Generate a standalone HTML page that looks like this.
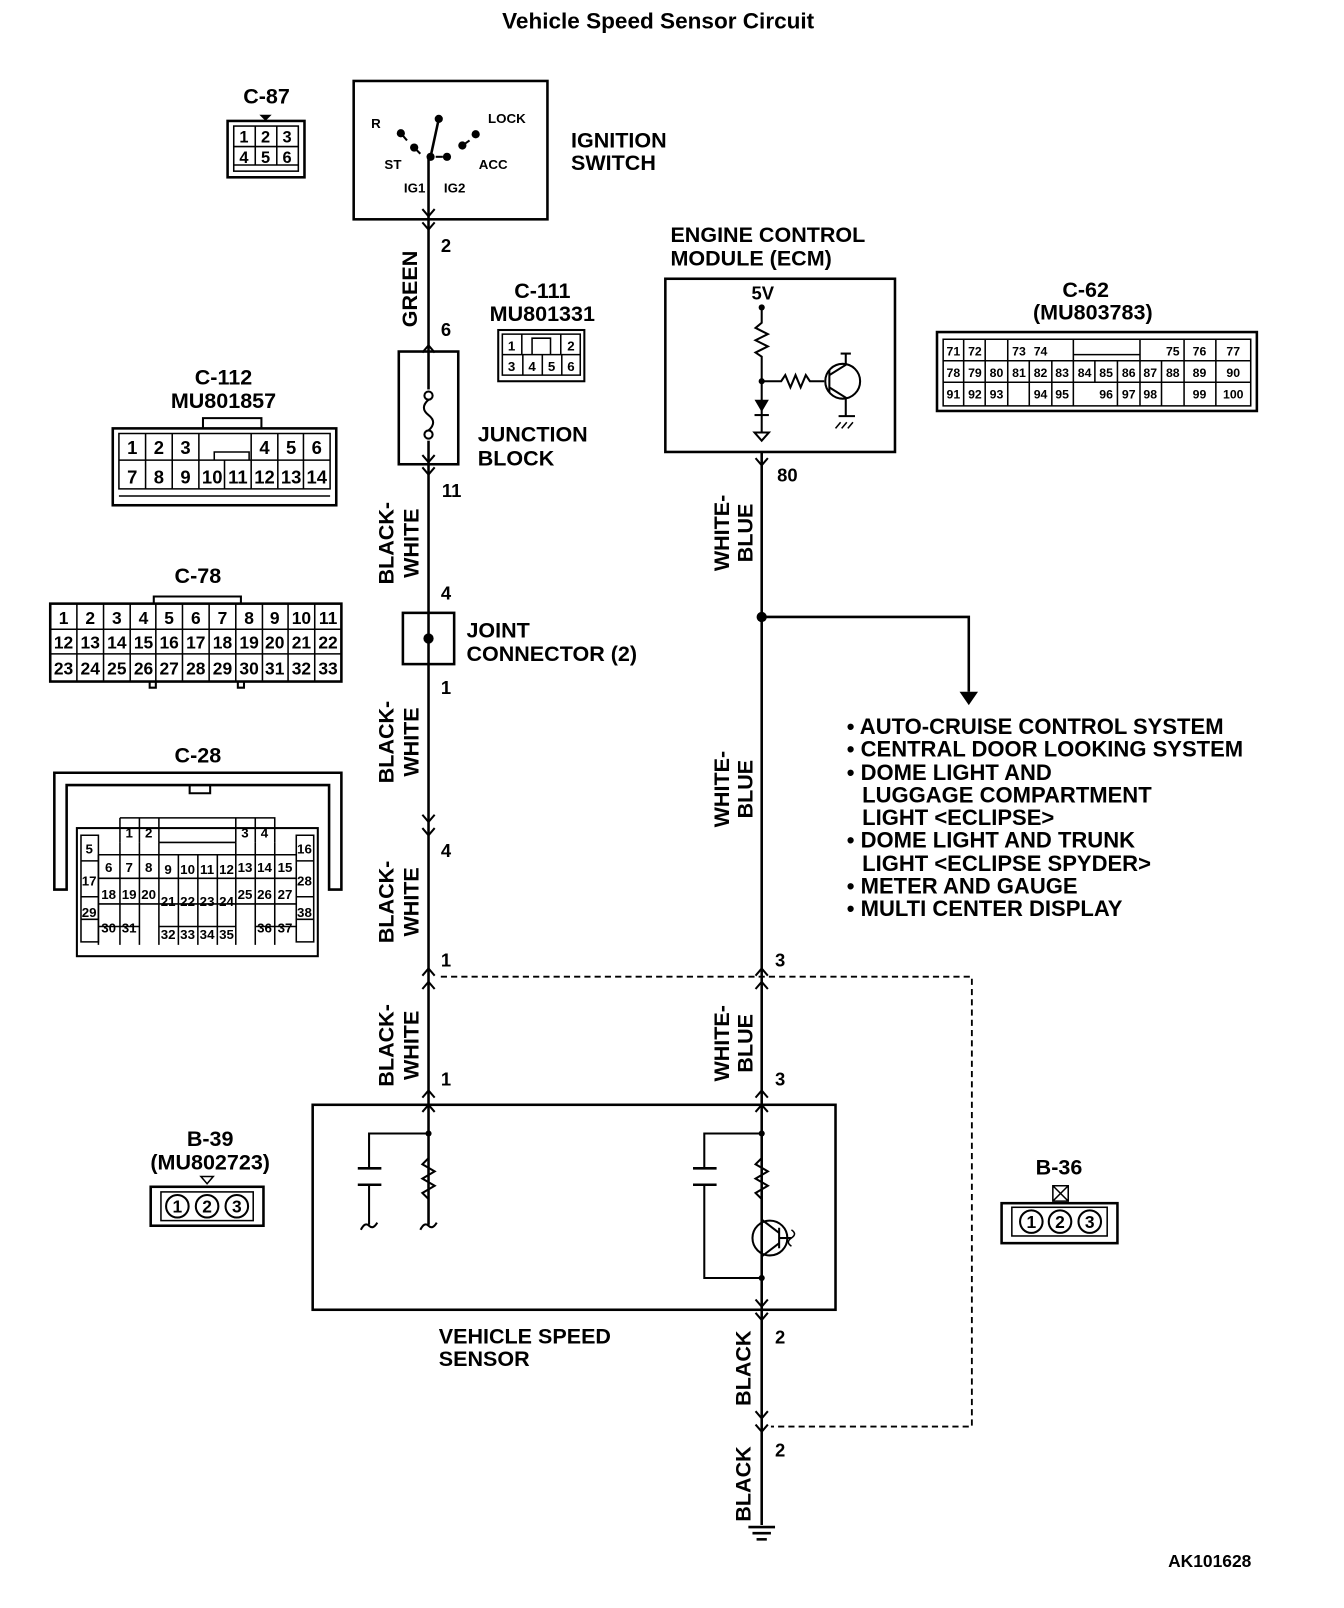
<!DOCTYPE html>
<html><head><meta charset="utf-8"><style>
html,body{margin:0;padding:0;background:#fff}
svg{display:block}
text{font-family:"Liberation Sans",Arial,sans-serif;fill:#000;font-weight:bold}
.l{font-size:21px}
.p{font-size:16px}
.s{font-size:13px}
.b{font-weight:bold}
</style></head><body>
<svg width="1344" height="1608" viewBox="0 0 1311 1569" preserveAspectRatio="none" xmlns="http://www.w3.org/2000/svg">
<g fill="none" stroke="#000" stroke-width="2.5">
<line x1="418" y1="153" x2="418" y2="1195"/>
<line x1="743" y1="441" x2="743" y2="1488"/>
<polyline points="743,602 945,602 945,675"/>
<polyline points="430,953 948,953 948,1392 752,1392" stroke-dasharray="6,4" stroke-width="1.8"/>
<rect x="345" y="79" width="189" height="135"/>
<line x1="420" y1="153" x2="428" y2="116"/>
<line x1="391" y1="130" x2="397" y2="137" stroke-width="2"/>
<line x1="404" y1="144" x2="410" y2="150" stroke-width="2"/>
<line x1="425" y1="153" x2="432" y2="153" stroke-width="2"/>
<line x1="451" y1="142" x2="458" y2="137" stroke-width="2"/>
<rect x="389" y="343" width="58" height="110"/>
<rect x="410" y="380" width="16" height="50" fill="#fff" stroke="none"/>
<circle cx="418" cy="386" r="4" stroke-width="2" fill="#fff"/>
<circle cx="418" cy="424" r="4" stroke-width="2" fill="#fff"/>
<path d="M418,390 q-9,8 0,15 q9,7 0,15" stroke-width="2"/>
<rect x="393" y="598" width="50" height="50"/>
<rect x="649" y="272" width="224" height="169"/>
<polyline points="743,300 743,315 737,320 749,326 737,332 749,338 737,344 743,348 743,405" stroke-width="2"/>
<polyline points="743,372 762,372 766,366 771,378 776,366 781,378 786,366 790,372 804,372" stroke-width="2"/>
<circle cx="822" cy="372" r="17" stroke-width="2"/>
<line x1="809" y1="361" x2="809" y2="383" stroke-width="2"/>
<polyline points="809,366 825,356 825,345" stroke-width="2"/>
<line x1="820" y1="345" x2="830" y2="345" stroke-width="2"/>
<polyline points="809,378 825,388 825,406" stroke-width="2"/>
<line x1="818" y1="406" x2="834" y2="406" stroke-width="2"/>
<path d="M820,412 l-5,6 M826,412 l-5,6 M832,412 l-5,6" stroke-width="1.5"/>
<line x1="736" y1="405" x2="750" y2="405" stroke-width="2"/>
<path d="M736,422 L750,422 L743,430 Z" stroke-width="2"/>
<line x1="743" y1="405" x2="743" y2="422" stroke-width="2"/>
<rect x="305" y="1078" width="510" height="200"/>
<polyline points="418,1106 360,1106 360,1140" stroke-width="2"/>
<line x1="349" y1="1140" x2="372" y2="1140"/>
<line x1="349" y1="1156" x2="372" y2="1156"/>
<line x1="360" y1="1156" x2="360" y2="1195" stroke-width="2"/>
<path d="M352,1200 q4,-8 8,-4 q4,4 8,-3" stroke-width="2"/>
<polyline points="418,1130 412,1136 424,1143 412,1150 424,1157 412,1164 418,1170 418,1195" stroke-width="2"/>
<path d="M410,1200 q4,-8 8,-4 q4,4 8,-3" stroke-width="2"/>
<polyline points="743,1106 687,1106 687,1140" stroke-width="2"/>
<line x1="676" y1="1140" x2="699" y2="1140"/>
<line x1="676" y1="1156" x2="699" y2="1156"/>
<polyline points="687,1156 687,1247 743,1247" stroke-width="2"/>
<polyline points="743,1106 743,1130 737,1136 749,1143 737,1150 749,1157 737,1164 743,1170 743,1190" stroke-width="2"/>
<circle cx="751" cy="1208" r="17" stroke-width="2"/>
<line x1="760" y1="1198" x2="760" y2="1218" stroke-width="2"/>
<line x1="760" y1="1208" x2="772" y2="1208" stroke-width="2"/>
<path d="M772,1200 q6,4 0,8 q-6,4 0,8" stroke-width="1.5"/>
<polyline points="760,1203 743,1190" stroke-width="2"/>
<polyline points="760,1213 743,1226 743,1247" stroke-width="2"/>
<line x1="730" y1="1490" x2="756" y2="1490"/>
<line x1="734" y1="1496" x2="752" y2="1496"/>
<line x1="738" y1="1502" x2="748" y2="1502"/>
<g stroke-width="2">
<path d="M412,204 l6,7 l6,-7 M412,217 l6,7 l6,-7"/>
<path d="M412,344 l6,-7 l6,7"/>
<path d="M412,444 l6,7 l6,-7 M412,456 l6,7 l6,-7"/>
<path d="M412,795 l6,7 l6,-7 M412,808 l6,7 l6,-7"/>
<path d="M412,952 l6,-7 l6,7 M412,965 l6,-7 l6,7"/>
<path d="M412,1071 l6,-7 l6,7 M412,1085 l6,-7 l6,7"/>
<path d="M737,447 l6,7 l6,-7"/>
<path d="M737,952 l6,-7 l6,7 M737,965 l6,-7 l6,7"/>
<path d="M737,1071 l6,-7 l6,7 M737,1085 l6,-7 l6,7"/>
<path d="M737,1268 l6,7 l6,-7 M737,1281 l6,7 l6,-7"/>
<path d="M737,1377 l6,7 l6,-7 M737,1390 l6,7 l6,-7"/>
</g>
<rect x="222" y="118" width="75" height="55"/>
<rect x="228" y="123" width="63" height="44" stroke-width="1.5"/>
<path d="M228,143 h63 M249,123 v20 M270,123 v20 M249,143 v18 M270,143 v18 M228,161 h63" stroke-width="1.5"/>
<rect x="486" y="322" width="84" height="50" stroke-width="2"/>
<path d="M490,326 h76 v40 h-76 Z M490,346 h76 M510,346 v20 M529,346 v20 M548,346 v20 M509,326 v20 M547,326 v20 M519,346 v-16 h18 v16" stroke-width="1.5"/>
<rect x="110" y="418" width="218" height="75"/>
<path d="M198,418 v-10 h57 v10" stroke-width="2"/>
<path d="M116,423 h206 v54 h-206 Z M116,449 h206 M116,484 h206" stroke-width="1.5"/>
<path d="M142,423 v54 M168,423 v54 M194,423 v54 M219,449 v28 M245,423 v54 M271,423 v54 M296,423 v54 M209,449 v-8 h34 v8" stroke-width="1.5"/>
<rect x="49" y="589" width="284" height="76"/>
<path d="M150,589 v-7 h85 v7 M146,665 v6 h6 v-6 M232,665 v6 h6 v-6" stroke-width="2"/>
<path d="M49,614 h284 M49,638 h284 M75,589 v76 M101,589 v76 M127,589 v76 M152,589 v76 M178,589 v76 M204,589 v76 M230,589 v76 M256,589 v76 M281,589 v76 M307,589 v76" stroke-width="1.5"/>
<path d="M53,868 V754 H333 V868 H321 V766 H65 V868 Z" stroke-width="2.5"/>
<path d="M185,766 v8 h20 v-8" stroke-width="2"/>
<rect x="75" y="808" width="235" height="125" stroke-width="2"/>
<path d="M117,798 h38 v24 M117,798 v24 M136,798 v24 M230,798 h38 v24 M230,798 v24 M249,798 v24 M155,798 h75 M155,822 h75" stroke-width="1.5"/>
<path d="M79,815 h17 v104 h-17 Z M79,840 h17 M79,875 h17 M79,897 h17 M289,815 h17 v104 h-17 Z M289,840 h17 M289,875 h17 M289,897 h17" stroke-width="1.5"/>
<path d="M96,834 h193 M96,857 h193 M96,882 h193 M96,834 v88 M117,822 v100 M136,822 v100 M155,822 v100 M174,834 v88 M193,834 v88 M212,834 v88 M230,822 v100 M249,822 v100 M268,822 v100 M155,904 h75 M96,904 h40 M249,904 h40" stroke-width="1.5"/>
<rect x="914" y="324" width="312" height="77"/>
<path d="M920,331 h300 v65 h-300 Z M920,352 h300 M920,373 h300" stroke-width="1.5"/>
<path d="M940,331 v65 M961,331 v65 M983,331 v42 M983,373 v23 M1004,352 v44 M1026,352 v44 M1047,331 v65 M1068,352 v21 M1090,352 v44 M1112,331 v65 M1133,352 v44 M1155,331 v65 M1186,331 v65 M1047,331 h65 M1047,346 h65" stroke-width="1.5"/>
<rect x="147" y="1158" width="110" height="38" stroke-width="2.5"/>
<rect x="157" y="1163" width="90" height="28" stroke-width="1.5"/>
<circle cx="173" cy="1177" r="11" stroke-width="2"/>
<circle cx="202" cy="1177" r="11" stroke-width="2"/>
<circle cx="231" cy="1177" r="11" stroke-width="2"/>
<path d="M196,1148 h12 l-6,7 Z" stroke-width="1.5"/>
<rect x="977" y="1174" width="113" height="39" stroke-width="2.5"/>
<rect x="987" y="1178" width="93" height="28" stroke-width="1.5"/>
<circle cx="1006" cy="1192" r="11" stroke-width="2"/>
<circle cx="1034" cy="1192" r="11" stroke-width="2"/>
<circle cx="1063" cy="1192" r="11" stroke-width="2"/>
<path d="M1027,1157 h15 v15 h-15 Z M1027,1157 l15,15 M1042,1157 l-15,15" stroke-width="1.5"/>
</g>
<g fill="#000">
<circle cx="420" cy="153" r="4"/><circle cx="428" cy="116" r="4"/>
<circle cx="391" cy="130" r="4"/><circle cx="404" cy="144" r="4"/>
<circle cx="436" cy="153" r="4"/><circle cx="451" cy="142" r="4"/><circle cx="464" cy="131" r="4"/>
<circle cx="418" cy="623" r="5"/>
<circle cx="743" cy="300" r="3"/><circle cx="743" cy="372" r="3"/>
<circle cx="743" cy="602" r="5"/>
<circle cx="418" cy="1106" r="3"/><circle cx="743" cy="1106" r="3"/><circle cx="743" cy="1247" r="3"/>
<path d="M936,675 h18 l-9,13 Z"/>
<path d="M736,390 h14 l-7,12 Z"/>
<path d="M253,112 h12 l-6,6 Z"/>
</g>
<text x="642" y="28" text-anchor="middle" style="font-size:22px">Vehicle Speed Sensor Circuit</text>
<text x="260" y="101" text-anchor="middle" class="l">C-87</text>
<g class="p" text-anchor="middle">
<text x="238" y="139">1</text><text x="259" y="139">2</text><text x="280" y="139">3</text>
<text x="238" y="159">4</text><text x="259" y="159">5</text><text x="280" y="159">6</text>
</g>
<g class="s">
<text x="362" y="125">R</text><text x="476" y="120">LOCK</text>
<text x="375" y="165">ST</text><text x="467" y="165">ACC</text>
<text x="394" y="188">IG1</text><text x="433" y="188">IG2</text>
</g>
<text x="557" y="144" class="l">IGNITION</text><text x="557" y="166" class="l">SWITCH</text>
<text x="430" y="246" style="font-size:18px">2</text>
<text transform="translate(407,282) rotate(-90)" text-anchor="middle" class="l">GREEN</text>
<text x="430" y="328" style="font-size:18px">6</text>
<text x="529" y="291" text-anchor="middle" class="l">C-111</text>
<text x="529" y="313" text-anchor="middle" class="l">MU801331</text>
<g class="s" text-anchor="middle"><text x="499" y="342">1</text><text x="557" y="342">2</text>
<text x="499" y="362">3</text><text x="519" y="362">4</text><text x="538" y="362">5</text><text x="557" y="362">6</text></g>
<text x="466" y="431" class="l">JUNCTION</text><text x="466" y="454" class="l">BLOCK</text>
<text x="431" y="485" style="font-size:18px">11</text>
<text transform="translate(384,530) rotate(-90)" text-anchor="middle" class="l">BLACK-</text>
<text transform="translate(408,530) rotate(-90)" text-anchor="middle" class="l">WHITE</text>
<text x="430" y="585" style="font-size:18px">4</text>
<text x="455" y="622" class="l">JOINT</text><text x="455" y="645" class="l">CONNECTOR (2)</text>
<text x="430" y="677" style="font-size:18px">1</text>
<text transform="translate(384,724) rotate(-90)" text-anchor="middle" class="l">BLACK-</text>
<text transform="translate(408,724) rotate(-90)" text-anchor="middle" class="l">WHITE</text>
<text x="430" y="836" style="font-size:18px">4</text>
<text transform="translate(384,880) rotate(-90)" text-anchor="middle" class="l">BLACK-</text>
<text transform="translate(408,880) rotate(-90)" text-anchor="middle" class="l">WHITE</text>
<text x="430" y="943" style="font-size:18px">1</text>
<text transform="translate(384,1020) rotate(-90)" text-anchor="middle" class="l">BLACK-</text>
<text transform="translate(408,1020) rotate(-90)" text-anchor="middle" class="l">WHITE</text>
<text x="430" y="1059" style="font-size:18px">1</text>
<text x="654" y="236" class="l">ENGINE CONTROL</text><text x="654" y="259" class="l">MODULE (ECM)</text>
<text x="733" y="292" style="font-size:18px">5V</text>
<text x="758" y="470" style="font-size:18px">80</text>
<text transform="translate(711,520) rotate(-90)" text-anchor="middle" class="l">WHITE-</text>
<text transform="translate(734,520) rotate(-90)" text-anchor="middle" class="l">BLUE</text>
<text transform="translate(711,770) rotate(-90)" text-anchor="middle" class="l">WHITE-</text>
<text transform="translate(734,770) rotate(-90)" text-anchor="middle" class="l">BLUE</text>
<text x="756" y="943" style="font-size:18px">3</text>
<text transform="translate(711,1018) rotate(-90)" text-anchor="middle" class="l">WHITE-</text>
<text transform="translate(734,1018) rotate(-90)" text-anchor="middle" class="l">BLUE</text>
<text x="756" y="1059" style="font-size:18px">3</text>
<text x="756" y="1311" style="font-size:18px">2</text>
<text transform="translate(732,1335) rotate(-90)" text-anchor="middle" class="l">BLACK</text>
<text x="756" y="1421" style="font-size:18px">2</text>
<text transform="translate(732,1448) rotate(-90)" text-anchor="middle" class="l">BLACK</text>
<text x="428" y="1311" class="l">VEHICLE SPEED</text><text x="428" y="1333" class="l">SENSOR</text>
<g style="font-size:21.5px">
<text x="826" y="716">• AUTO-CRUISE CONTROL SYSTEM</text>
<text x="826" y="738">• CENTRAL DOOR LOOKING SYSTEM</text>
<text x="826" y="761">• DOME LIGHT AND</text>
<text x="841" y="783">LUGGAGE COMPARTMENT</text>
<text x="841" y="805">LIGHT &lt;ECLIPSE&gt;</text>
<text x="826" y="827">• DOME LIGHT AND TRUNK</text>
<text x="841" y="850">LIGHT &lt;ECLIPSE SPYDER&gt;</text>
<text x="826" y="872">• METER AND GAUGE</text>
<text x="826" y="894">• MULTI CENTER DISPLAY</text>
</g>
<text x="1059" y="290" text-anchor="middle" class="l">C-62</text>
<text x="1066" y="312" text-anchor="middle" class="l">(MU803783)</text>
<g text-anchor="middle" style="font-size:12px">
<text x="930" y="347">71</text><text x="951" y="347">72</text><text x="994" y="347">73</text><text x="1015" y="347">74</text><text x="1144" y="347">75</text><text x="1170" y="347">76</text><text x="1203" y="347">77</text>
<text x="930" y="368">78</text><text x="951" y="368">79</text><text x="972" y="368">80</text><text x="994" y="368">81</text><text x="1015" y="368">82</text><text x="1036" y="368">83</text><text x="1058" y="368">84</text><text x="1079" y="368">85</text><text x="1101" y="368">86</text><text x="1122" y="368">87</text><text x="1144" y="368">88</text><text x="1170" y="368">89</text><text x="1203" y="368">90</text>
<text x="930" y="389">91</text><text x="951" y="389">92</text><text x="972" y="389">93</text><text x="1015" y="389">94</text><text x="1036" y="389">95</text><text x="1079" y="389">96</text><text x="1101" y="389">97</text><text x="1122" y="389">98</text><text x="1170" y="389">99</text><text x="1203" y="389">100</text>
</g>
<text x="218" y="375" text-anchor="middle" class="l">C-112</text>
<text x="218" y="398" text-anchor="middle" class="l">MU801857</text>
<g text-anchor="middle" style="font-size:18px">
<text x="129" y="443">1</text><text x="155" y="443">2</text><text x="181" y="443">3</text><text x="258" y="443">4</text><text x="284" y="443">5</text><text x="309" y="443">6</text>
<text x="129" y="472">7</text><text x="155" y="472">8</text><text x="181" y="472">9</text><text x="207" y="472">10</text><text x="232" y="472">11</text><text x="258" y="472">12</text><text x="284" y="472">13</text><text x="309" y="472">14</text>
</g>
<text x="193" y="569" text-anchor="middle" class="l">C-78</text>
<g text-anchor="middle" style="font-size:17px">
<text x="62" y="609">1</text><text x="88" y="609">2</text><text x="114" y="609">3</text><text x="140" y="609">4</text><text x="165" y="609">5</text><text x="191" y="609">6</text><text x="217" y="609">7</text><text x="243" y="609">8</text><text x="268" y="609">9</text><text x="294" y="609">10</text><text x="320" y="609">11</text>
<text x="62" y="633">12</text><text x="88" y="633">13</text><text x="114" y="633">14</text><text x="140" y="633">15</text><text x="165" y="633">16</text><text x="191" y="633">17</text><text x="217" y="633">18</text><text x="243" y="633">19</text><text x="268" y="633">20</text><text x="294" y="633">21</text><text x="320" y="633">22</text>
<text x="62" y="658">23</text><text x="88" y="658">24</text><text x="114" y="658">25</text><text x="140" y="658">26</text><text x="165" y="658">27</text><text x="191" y="658">28</text><text x="217" y="658">29</text><text x="243" y="658">30</text><text x="268" y="658">31</text><text x="294" y="658">32</text><text x="320" y="658">33</text>
</g>
<text x="193" y="744" text-anchor="middle" class="l">C-28</text>
<g class="s" text-anchor="middle">
<text x="126" y="817">1</text><text x="145" y="817">2</text><text x="239" y="817">3</text><text x="258" y="817">4</text>
<text x="87" y="833">5</text><text x="297" y="833">16</text>
<text x="106" y="851">6</text><text x="126" y="851">7</text><text x="145" y="851">8</text><text x="164" y="853">9</text><text x="183" y="853">10</text><text x="202" y="853">11</text><text x="221" y="853">12</text><text x="239" y="851">13</text><text x="258" y="851">14</text><text x="278" y="851">15</text>
<text x="87" y="864">17</text><text x="297" y="864">28</text>
<text x="106" y="877">18</text><text x="126" y="877">19</text><text x="145" y="877">20</text><text x="164" y="884">21</text><text x="183" y="884">22</text><text x="202" y="884">23</text><text x="221" y="884">24</text><text x="239" y="877">25</text><text x="258" y="877">26</text><text x="278" y="877">27</text>
<text x="87" y="895">29</text><text x="297" y="895">38</text>
<text x="106" y="910">30</text><text x="126" y="910">31</text><text x="164" y="916">32</text><text x="183" y="916">33</text><text x="202" y="916">34</text><text x="221" y="916">35</text><text x="258" y="910">36</text><text x="278" y="910">37</text>
</g>
<text x="205" y="1118" text-anchor="middle" class="l">B-39</text>
<text x="205" y="1141" text-anchor="middle" class="l">(MU802723)</text>
<g text-anchor="middle" style="font-size:17px"><text x="173" y="1183">1</text><text x="202" y="1183">2</text><text x="231" y="1183">3</text></g>
<text x="1033" y="1146" text-anchor="middle" class="l">B-36</text>
<g text-anchor="middle" style="font-size:17px"><text x="1006" y="1198">1</text><text x="1034" y="1198">2</text><text x="1063" y="1198">3</text></g>
<text x="1180" y="1529" text-anchor="middle" style="font-size:17px">AK101628</text>
</svg>
</body></html>
